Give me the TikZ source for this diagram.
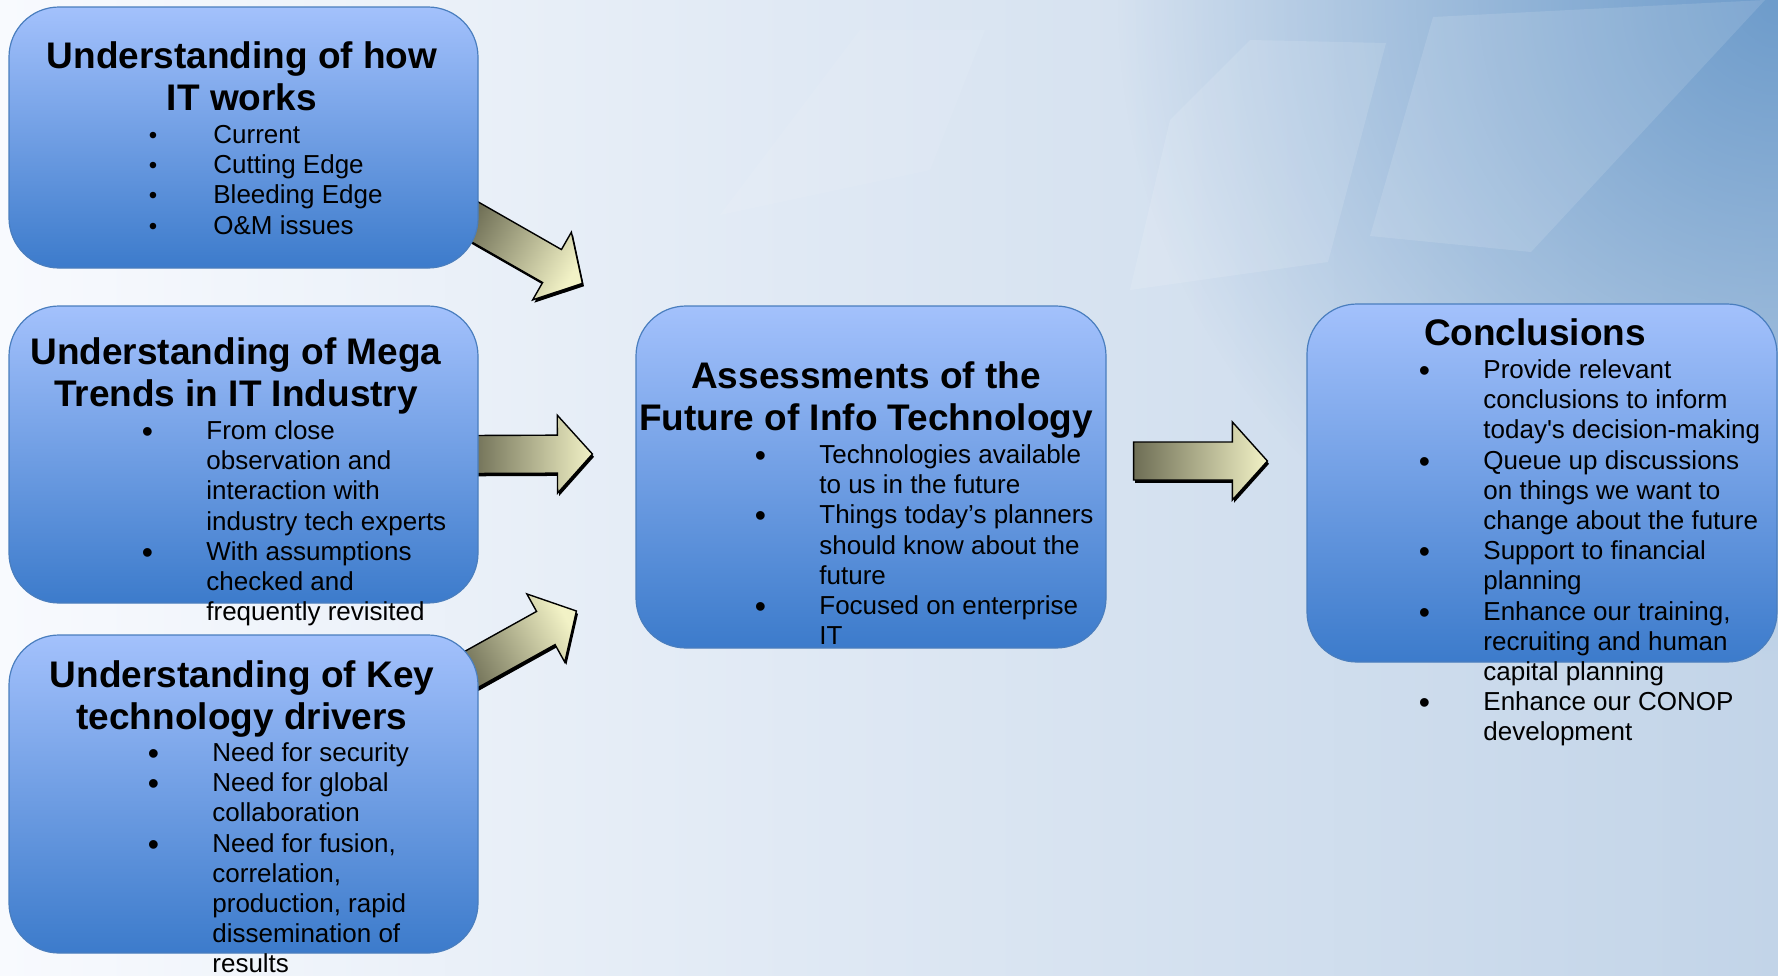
\documentclass[tikz,border=0pt]{standalone}
\usepackage{fontspec}
\setmainfont{Liberation Sans}
\usetikzlibrary{calc,fadings,positioning}

\definecolor{bgleft}{HTML}{F8FAFE}
\definecolor{bgright}{HTML}{C2D4E8}
\definecolor{bgcorner}{HTML}{6E9CCB}
\definecolor{boxtop}{HTML}{A3C1FC}
\definecolor{boxbottom}{HTML}{3C7BCB}
\definecolor{boxline}{HTML}{4A7EBE}
\definecolor{arrowdark}{HTML}{6E6E55}
\definecolor{arrowlight}{HTML}{F2F2C6}

\pgfdeclarelayer{backdrop}
\pgfdeclarelayer{arrowlayer}
\pgfsetlayers{backdrop,arrowlayer,main}

\tikzfading[name=cornerfade, inner color=transparent!0, outer color=transparent!100]

\tikzset{
  infobox/.style={rounded corners=25pt, draw=boxline, line width=0.6pt,
    top color=boxtop, bottom color=boxbottom, inner sep=0pt},
  boxtitle/.style={anchor=north, align=center, inner sep=0pt,
    font=\fontsize{18.5}{21}\selectfont\bfseries},
  boxlist/.style={anchor=north west, inner sep=0pt,
    font=\fontsize{13}{15.1}\selectfont},
  fatarrow/.style={draw=black, line width=0.7pt, line join=miter,
    left color=arrowdark, right color=arrowlight,
    preaction={fill=black, transform canvas={xshift=0.8pt, yshift=-1.4pt}}},
  pane/.style={fill=white, opacity=0.12}
}

% bullets: big one for most lists, small one for the first box
\newcommand{\bul}{\makebox[32.3pt][l]{\raisebox{-1.5pt}{\fontsize{16}{15}\selectfont •}}}
\newcommand{\sbul}{\makebox[32.3pt][l]{\fontsize{12}{15}\selectfont •}}

% block arrow from #1 to #2, shading angle #3
\newcommand{\fatarrowpath}[3]{%
  \coordinate (hb) at ($(#2)!17.5pt!(#1)$);
  \path[fatarrow, shading angle=#3]
    ($(#1)!9.5pt!90:(#2)$) -- ($(hb)!9.5pt!90:(#2)$) -- ($(hb)!19.5pt!90:(#2)$)
    -- (#2) -- ($(hb)!19.5pt!-90:(#2)$) -- ($(hb)!9.5pt!-90:(#2)$)
    -- ($(#1)!9.5pt!-90:(#2)$) -- cycle;}

\begin{document}
\begin{tikzpicture}[x=0.5pt, y=-0.5pt]
  \useasboundingbox (0,0) rectangle (1778,975);

  % backdrop
  \begin{pgfonlayer}{backdrop}
    \shade[left color=bgleft, right color=bgright] (0,0) rectangle (1778,975);
    \fill[bgcorner, path fading=cornerfade] (1778,0) circle [radius=330pt];
    \path[pane] (1250,40) -- (1386,43) -- (1328,262) -- (1130,290) -- (1170,120) -- cycle;
    \path[pane] (1433,17) -- (1765,0) -- (1531,252) -- (1370,236) -- cycle;
    \path[pane, opacity=0.08] (860,30) -- (985,30) -- (930,170) -- (720,215) -- cycle;
  \end{pgfonlayer}

  % boxes
  \node[infobox, minimum width=234.5pt, minimum height=130.5pt] (how) at (243.5,137.5) {};
  \node[infobox, minimum width=234.5pt, minimum height=148.5pt] (mega) at (243.5,454.5) {};
  \node[infobox, minimum width=234.5pt, minimum height=159pt] (key) at (243.5,794) {};
  \node[infobox, minimum width=235pt, minimum height=171pt] (assess) at (871,477) {};
  \node[infobox, minimum width=235pt, minimum height=179pt] (concl) at (1542,483) {};

  % titles
  \node[boxtitle] (howT) at (242,38.6) {\strut Understanding of how\\IT works};
  \node[boxtitle] (megaT) at (236,334.6) {\strut Understanding of Mega\\Trends in IT Industry};
  \node[boxtitle] (keyT) at (242,657.6) {\strut Understanding of Key\\technology drivers};
  \node[boxtitle] (assessT) at (866,358.6) {\strut Assessments of the\\Future of Info Technology};
  \node[boxtitle] (conclT) at (1535,315.6) {\strut Conclusions};

  % bullet lists
  \node[boxlist] (howL) at (148.4,121.9) {\begin{tabular}{@{}l@{}l@{}}
    \sbul & Current\\
    \sbul & Cutting Edge\\
    \sbul & Bleeding Edge\\
    \sbul & O\&M issues
  \end{tabular}};
  \node[boxlist] (megaL) at (141.4,417.9) {\begin{tabular}{@{}l@{}l@{}}
    \bul & From close\\
         & observation and\\
         & interaction with\\
         & industry tech experts\\
    \bul & With assumptions\\
         & checked and\\
         & frequently revisited
  \end{tabular}};
  \node[boxlist] (keyL) at (147.4,739.9) {\begin{tabular}{@{}l@{}l@{}}
    \bul & Need for security\\
    \bul & Need for global\\
         & collaboration\\
    \bul & Need for fusion,\\
         & correlation,\\
         & production, rapid\\
         & dissemination of\\
         & results
  \end{tabular}};
  \node[boxlist] (assessL) at (754.4,441.9) {\begin{tabular}{@{}l@{}l@{}}
    \bul & Technologies available\\
         & to us in the future\\
    \bul & Things today's planners\\
         & should know about the\\
         & future\\
    \bul & Focused on enterprise\\
         & IT
  \end{tabular}};
  \node[boxlist] (conclL) at (1418.4,356.9) {\begin{tabular}{@{}l@{}l@{}}
    \bul & Provide relevant\\
         & conclusions to inform\\
         & today\textquotesingle s decision-making\\
    \bul & Queue up discussions\\
         & on things we want to\\
         & change about the future\\
    \bul & Support to financial\\
         & planning\\
    \bul & Enhance our training,\\
         & recruiting and human\\
         & capital planning\\
    \bul & Enhance our CONOP\\
         & development
  \end{tabular}};

  % arrow ends
  \coordinate (a1s) at ($(how.south east)+(-13,-52)$);
  \coordinate (a1e) at ($(assess.north west)+(-53,-22)$);
  \coordinate (a2s) at ($(mega.east)+(-8,0)$);
  \coordinate (a2e) at ($(assess.west)+(-43,-23)$);
  \coordinate (a3s) at ($(key.north east)+(-18,41)$);
  \coordinate (a3e) at ($(assess.west)+(-59,134)$);
  \coordinate (a4s) at ($(assess.east)+(27,-16)$);
  \coordinate (a4e) at ($(concl.west)+(-39,-22)$);

  \begin{pgfonlayer}{arrowlayer}
    \fatarrowpath{a1s}{a1e}{60}
    \fatarrowpath{a2s}{a2e}{90}
    \fatarrowpath{a3s}{a3e}{119}
    \fatarrowpath{a4s}{a4e}{90}
  \end{pgfonlayer}
\end{tikzpicture}
\end{document}
